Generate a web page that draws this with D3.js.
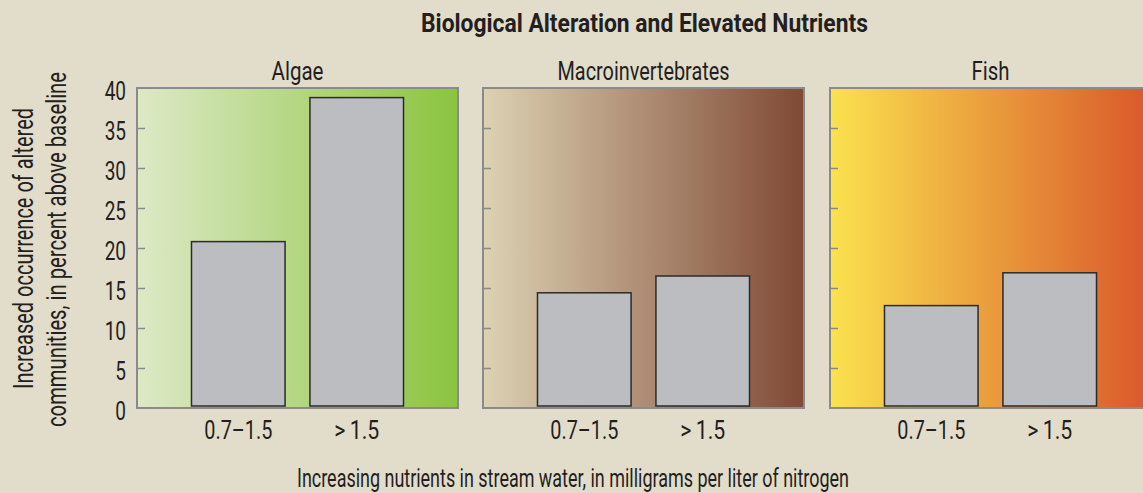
<!DOCTYPE html>
<html>
<head>
<meta charset="utf-8">
<script src="https://cdn.jsdelivr.net/npm/d3@7"></script>
<style>
  body { margin: 0; background: #e2dccb; }
  svg text { font-family: Roboto, "DejaVu Sans Condensed", sans-serif; fill: #231f20; }
</style>
</head>
<body>
<svg id="chart" width="1143" height="493"></svg>
<script>
const panels = ["Algae", "Macroinvertebrates", "Fish"];
const categories = ["0.7\u20131.5", ">\u20091.5"];
const algaeValues = [20.8, 38.8];
const macroValues = [14.4, 16.5];
const fishValues = [12.8, 16.9];
const yTicks = [0, 5, 10, 15, 20, 25, 30, 35, 40];
const gradients = [
  ["#dde9c6", "#8bc43f"],
  ["#ddd2b3", "#7f4935"],
  ["#fbe24f", "#d9572a"]
];

const seriesByPanel = [algaeValues, macroValues, fishValues];

const svg = d3.select("#chart");
const panelLeft = [137, 483, 830];
const panelWidth = 321;
const plotTop = 88, plotBottom = 408;
const panelTitleWidth = [52, 172, 38];
const catWidth = [68, 45];

// squeeze text horizontally to mimic the condensed face
function fit(sel, w) {
  sel.attr("textLength", w).attr("lengthAdjust", "spacingAndGlyphs");
}
function condense(sel, k) {
  sel.each(function() {
    const w = this.getComputedTextLength();
    d3.select(this).attr("textLength", w * k).attr("lengthAdjust", "spacingAndGlyphs");
  });
}

const yScale = d3.scaleLinear().domain([0, 40]).range([plotBottom, plotTop]);

const defs = svg.append("defs");
gradients.forEach((c, i) => {
  const lg = defs.append("linearGradient").attr("id", "grad" + i)
    .attr("x1", "0%").attr("x2", "100%").attr("y1", "0%").attr("y2", "0%");
  lg.append("stop").attr("offset", "0%").attr("stop-color", c[0]);
  lg.append("stop").attr("offset", "100%").attr("stop-color", c[1]);
});

// title
svg.append("text")
  .attr("x", 644.5).attr("y", 32)
  .attr("text-anchor", "middle")
  .style("font-size", "26px").style("font-weight", "bold")
  .text("Biological Alteration and Elevated Nutrients")
  .call(fit, 447);

panels.forEach((name, i) => {
  const x0 = panelLeft[i];
  const xScale = d3.scaleBand()
    .domain(categories)
    .range([x0, x0 + panelWidth])
    .paddingInner(0.21)
    .paddingOuter(0.46);

  const g = svg.append("g");

  g.append("rect")
    .attr("x", x0).attr("y", plotTop)
    .attr("width", panelWidth).attr("height", plotBottom - plotTop)
    .attr("fill", `url(#grad${i})`)
    .attr("stroke", "#8a8a8a").attr("stroke-width", 2);

  // inner tick marks
  g.append("g")
    .attr("transform", `translate(${x0},0)`)
    .call(d3.axisRight(yScale).tickValues(yTicks.slice(1, -1)).tickSize(8).tickFormat(""))
    .call(a => a.select(".domain").remove())
    .call(a => a.selectAll("line").attr("stroke", "#8a8a8a").attr("stroke-width", 1.5));

  g.selectAll("rect.bar")
    .data(seriesByPanel[i])
    .enter().append("rect")
    .attr("class", "bar")
    .attr("x", (d, j) => xScale(categories[j]))
    .attr("y", d => yScale(d))
    .attr("width", xScale.bandwidth())
    .attr("height", d => plotBottom - 2 - yScale(d))
    .attr("fill", "#bcbdc0")
    .attr("stroke", "#2b2b2b").attr("stroke-width", 1.5);

  g.append("text")
    .attr("x", x0 + panelWidth / 2).attr("y", 80)
    .attr("text-anchor", "middle")
    .style("font-size", "25px")
    .text(name)
    .call(fit, panelTitleWidth[i]);

  g.selectAll("text.cat")
    .data(categories)
    .enter().append("text")
    .attr("class", "cat")
    .attr("x", d => xScale(d) + xScale.bandwidth() / 2)
    .attr("y", 439)
    .attr("text-anchor", "middle")
    .style("font-size", "25px")
    .text(d => d)
    .each(function(d, j) { d3.select(this).call(fit, catWidth[j]); });
});

// y tick labels
svg.append("g")
  .attr("transform", `translate(137,0)`)
  .call(d3.axisLeft(yScale).tickValues(yTicks).tickSize(0).tickPadding(11))
  .call(a => a.select(".domain").remove())
  .call(a => a.selectAll("text")
    .attr("dy", "0.44em")
    .style("font-size", "25px")
    .style("font-family", 'Roboto, "DejaVu Sans Condensed", sans-serif')
    .attr("fill", "#231f20")
    .call(condense, 0.76));

// y axis title
const yt = svg.append("text")
  .attr("transform", "translate(0,250) rotate(-90)")
  .attr("text-anchor", "middle")
  .style("font-size", "27px");
yt.append("tspan").attr("x", 1.5).attr("y", 33).text("Increased occurrence of altered").call(fit, 281);
yt.append("tspan").attr("x", 0.5).attr("y", 66).text("communities, in percent above baseline").call(fit, 355);

// x axis title
svg.append("text")
  .attr("x", 573).attr("y", 487)
  .attr("text-anchor", "middle")
  .style("font-size", "26px")
  .text("Increasing nutrients in stream water, in milligrams per liter of nitrogen")
  .call(fit, 552);
</script>
</body>
</html>
